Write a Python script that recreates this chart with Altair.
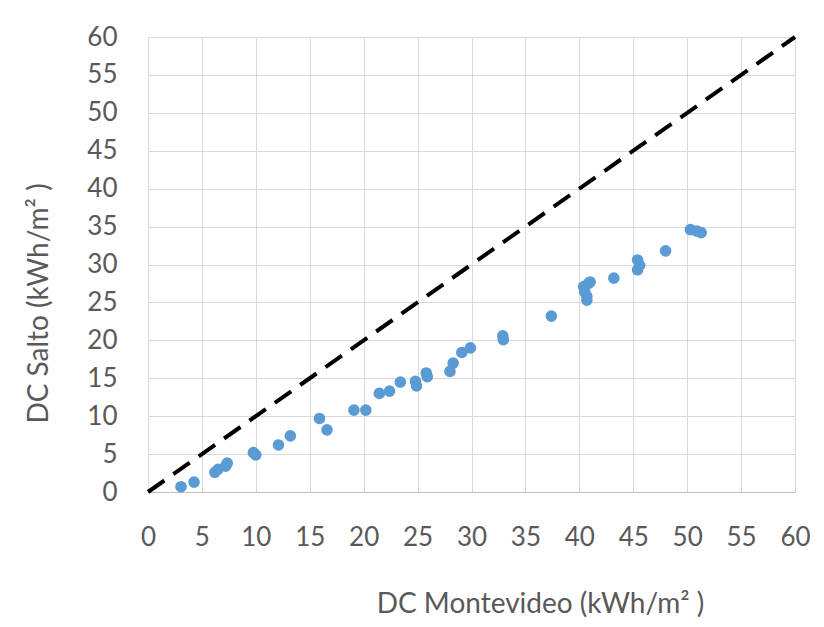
import altair as alt
import pandas as pd

mont = [3.06, 4.27, 6.2, 6.5, 7.2, 7.35, 9.77, 10.0, 12.1, 13.2, 15.9, 16.6, 19.1, 20.2,
        21.45, 22.4, 23.4, 24.8, 24.9, 25.8, 25.9, 28.0, 28.3, 29.1, 29.9, 32.9, 32.95,
        37.4, 40.4, 40.5, 40.7, 40.7, 40.85, 41.0, 43.2, 45.4, 45.4, 45.6, 48.0, 50.3, 50.9, 51.3]
salto = [0.7, 1.3, 2.6, 3.0, 3.4, 3.8, 5.2, 4.9, 6.2, 7.4, 9.7, 8.2, 10.8, 10.8,
         13.0, 13.3, 14.5, 14.6, 14.0, 15.7, 15.2, 15.9, 17.0, 18.4, 19.0, 20.6, 20.1,
         23.2, 27.1, 26.4, 25.8, 25.3, 27.5, 27.7, 28.2, 30.6, 29.3, 29.9, 31.8, 34.6, 34.4, 34.2]
line_x = [0, 60]
line_y = [0, 60]
ticks = list(range(0, 61, 5))

df = pd.DataFrame({"x": mont, "y": salto})
dl = pd.DataFrame({"x": line_x, "y": line_y})

xs = alt.Scale(domain=[0, 60], nice=False)
ys = alt.Scale(domain=[0, 60], nice=False)

font = "Lato"
grey = "#595959"

xaxis = alt.Axis(values=ticks, title="DC Montevideo (kWh/m² )", grid=True, gridColor="#d9d9d9",
                 ticks=False, domainColor="#bfbfbf", labelFontSize=26, labelColor=grey, labelFont=font,
                 labelPadding=32, labelOverlap=False, titleFontSize=28, titleFont=font, titleColor=grey,
                 titleFontWeight="normal", titleX=392, titleY=120, titleAlign="center",
                 titleBaseline="alphabetic", labelFlush=False)
yaxis = alt.Axis(values=ticks, title="DC Salto (kWh/m² )", grid=True, gridColor="#d9d9d9",
                 ticks=False, domain=False, labelFontSize=26, labelColor=grey, labelFont=font,
                 labelPadding=31, labelOverlap=False, labelBound=False, titleFontSize=28, titleFont=font,
                 titleColor=grey, titleFontWeight="normal", titleX=-101, titleY=266, titleAlign="center",
                 titleBaseline="alphabetic", labelFlush=False)

line = alt.Chart(dl).mark_line(color="black", strokeWidth=4, strokeDash=[20, 11]).encode(
    x=alt.X("x:Q", scale=xs, axis=xaxis),
    y=alt.Y("y:Q", scale=ys, axis=yaxis),
)
pts = alt.Chart(df).mark_circle(size=135, color="#5b9bd5", opacity=1).encode(
    x=alt.X("x:Q", scale=xs, axis=xaxis),
    y=alt.Y("y:Q", scale=ys, axis=yaxis),
)

chart = alt.layer(line, pts).properties(
    width=647, height=455,
    autosize=alt.AutoSizeParams(type="none"),
    padding={"left": 140, "top": 29, "right": 15, "bottom": 127},
).configure_view(stroke=None).configure_axis(labelOverlap=False).configure(background="white")

chart.save("out.html", embed_options={"renderer": "svg", "actions": False})
